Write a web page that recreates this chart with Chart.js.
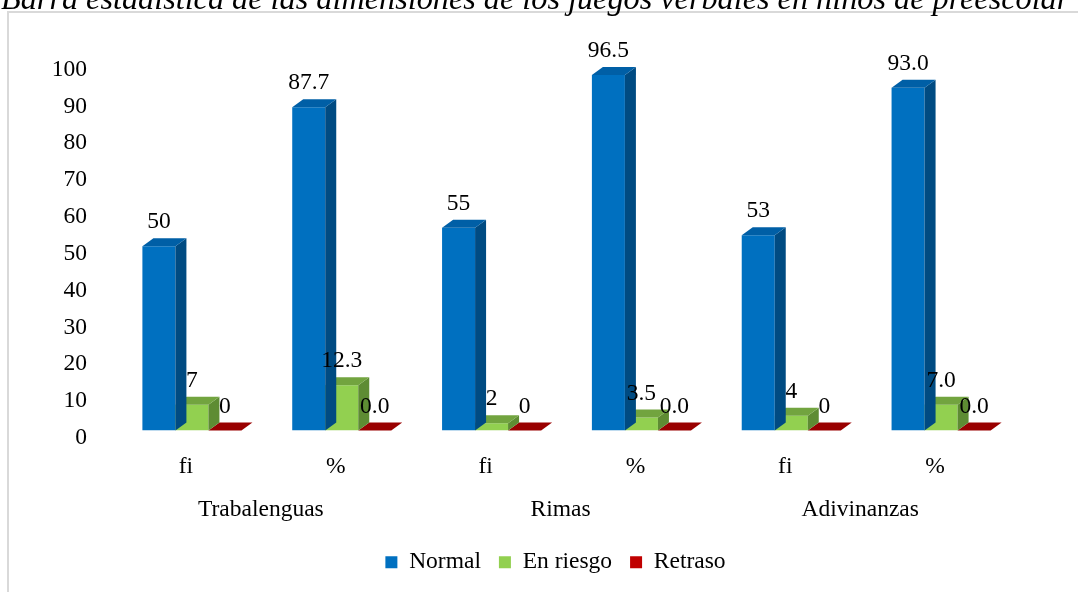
<!DOCTYPE html>
<html>
<head>
<meta charset="utf-8">
<script src="https://cdn.jsdelivr.net/npm/chart.js@4/dist/chart.umd.min.js"></script>
<style>
  html, body { margin: 0; padding: 0; background: #ffffff; }
  #c { display: block; }
</style>
</head>
<body>
<canvas id="c" width="1078" height="592"></canvas>
<script>
// ---- data ----
const titleText = 'Barra estadística de las dimensiones de los juegos verbales en niños de preescolar';
const categories = ['fi', '%', 'fi', '%', 'fi', '%'];
const groups = ['Trabalenguas', 'Rimas', 'Adivinanzas'];
const seriesNames = ['Normal', 'En riesgo', 'Retraso'];
const normal = [50, 87.7, 55, 96.5, 53, 93.0];
const enRiesgo = [7, 12.3, 2, 3.5, 4, 7.0];
const retraso = [0, 0, 0, 0, 0, 0];
const yMin = 0;
const yMax = 100;
const yStep = 10;

// ---- styles ----
const FONT = "'Liberation Serif', 'Times New Roman', serif";
const FS = 23.5;
const frontColors = ['#0070C0', '#92D050', '#C00000'];
const topColors = ['#005FA6', '#72A43F', '#990000'];
const sideColors = ['#004B82', '#5E8C33', '#7A0000'];
const DX = 11, DY = 8;

function fmt(v, i) {
  return (i % 2 === 1) ? v.toFixed(1) : String(Math.round(v));
}

const threeD = {
  id: 'threeD',
  afterLayout(chart) {
    // nudge the legend block slightly left, as in the reference
    if (chart.legend) {
      chart.legend.left -= 11;
      chart.legend.right -= 11;
    }
  },
  beforeDraw(chart) {
    const ctx = chart.ctx;
    ctx.save();
    // frame
    ctx.strokeStyle = '#D9D9D9';
    ctx.lineWidth = 2;
    ctx.beginPath();
    ctx.moveTo(8, 600);
    ctx.lineTo(8, 12);
    ctx.lineTo(1090, 12);
    ctx.stroke();
    // title (cut at the top)
    ctx.fillStyle = '#000000';
    ctx.font = 'italic 32.25px ' + FONT;
    ctx.textAlign = 'left';
    ctx.textBaseline = 'alphabetic';
    ctx.fillText(titleText, 1, 9);
    ctx.restore();
  },
  afterDatasetDraw(chart, args) {
    const ctx = chart.ctx;
    const di = args.index;
    const meta = args.meta;
    ctx.save();
    meta.data.forEach((el) => {
      const p = el.getProps(['x', 'y', 'base', 'width'], true);
      const x0 = p.x - p.width / 2, x1 = p.x + p.width / 2;
      const top = Math.min(p.y, p.base), base = Math.max(p.y, p.base);
      if (base - top > 0.5) {
        ctx.fillStyle = sideColors[di];
        ctx.beginPath();
        ctx.moveTo(x1, top);
        ctx.lineTo(x1 + DX, top - DY);
        ctx.lineTo(x1 + DX, base - DY);
        ctx.lineTo(x1, base);
        ctx.closePath();
        ctx.fill();
      }
      ctx.fillStyle = topColors[di];
      ctx.beginPath();
      ctx.moveTo(x0, top);
      ctx.lineTo(x1, top);
      ctx.lineTo(x1 + DX, top - DY);
      ctx.lineTo(x0 + DX, top - DY);
      ctx.closePath();
      ctx.fill();
    });
    ctx.restore();
  },
  afterDatasetsDraw(chart) {
    const ctx = chart.ctx;
    ctx.save();
    ctx.fillStyle = '#000000';
    ctx.font = FS + 'px ' + FONT;
    ctx.textAlign = 'center';
    ctx.textBaseline = 'middle';
    chart.data.datasets.forEach((ds, di) => {
      const meta = chart.getDatasetMeta(di);
      meta.data.forEach((el, i) => {
        const p = el.getProps(['x', 'y'], true);
        ctx.fillText(fmt(ds.data[i], i), p.x, p.y - 24);
      });
    });
    ctx.restore();
  }
};

new Chart(document.getElementById('c'), {
  type: 'bar',
  data: {
    labels: categories,
    datasets: [
      { label: seriesNames[0], data: normal, backgroundColor: frontColors[0] },
      { label: seriesNames[1], data: enRiesgo, backgroundColor: frontColors[1] },
      { label: seriesNames[2], data: retraso, backgroundColor: frontColors[2] }
    ]
  },
  options: {
    responsive: false,
    animation: false,
    devicePixelRatio: 1,
    categoryPercentage: 0.661,
    barPercentage: 1,
    layout: { padding: { top: 62, right: 62, bottom: 8, left: 0 } },
    plugins: {
      title: { display: false },
      tooltip: { enabled: false },
      legend: {
        display: true,
        position: 'bottom',
        fullSize: false,
        labels: {
          boxWidth: 12,
          boxHeight: 12,
          padding: 18,
          color: '#000000',
          font: { family: FONT, size: FS }
        }
      }
    },
    scales: {
      y: {
        min: yMin,
        max: yMax,
        grid: { display: false, drawTicks: false },
        border: { display: false },
        ticks: {
          stepSize: yStep,
          padding: 30,
          labelOffset: 7.5,
          color: '#000000',
          font: { family: FONT, size: FS }
        },
        afterFit(scale) { scale.width = 117; }
      },
      x: {
        position: 'bottom',
        grid: { display: false, drawTicks: false },
        border: { display: false },
        ticks: {
          padding: 22,
          labelOffset: -6,
          maxRotation: 0,
          color: '#000000',
          font: { family: FONT, size: FS }
        },
        afterFit(scale) { scale.height = 50; }
      },
      x2: {
        type: 'category',
        position: 'bottom',
        labels: groups,
        offset: true,
        grid: { display: false, drawTicks: false },
        border: { display: false },
        ticks: {
          padding: 15,
          labelOffset: -6,
          maxRotation: 0,
          color: '#000000',
          font: { family: FONT, size: FS }
        },
        afterFit(scale) { scale.height = 52; }
      }
    }
  },
  plugins: [threeD]
});
</script>
</body>
</html>
